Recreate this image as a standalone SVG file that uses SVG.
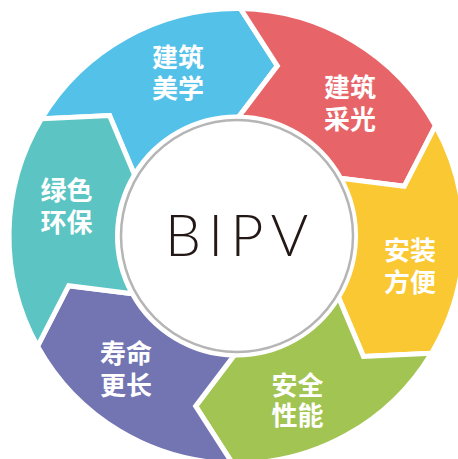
<svg xmlns="http://www.w3.org/2000/svg" width="458" height="459" viewBox="0 0 458 459">
<style>
.seg{stroke:#fff;stroke-width:5;stroke-linejoin:miter;stroke-miterlimit:10}
.lbl{font-family:"Noto Sans CJK SC","Noto Sans",sans-serif;font-size:26px;font-weight:bold;fill:#fff;text-anchor:middle}
.title{font-family:"Lato","Liberation Sans",sans-serif;font-weight:300;font-size:57px;fill:#231815;text-anchor:middle}
</style>
<rect width="458" height="459" fill="#fff"/>
<g id="blue">
<path class="seg" fill="#54C1E9" d="M41.49,118.83 A227.5,227.5 0 0 1 240.47,8.53 L277.35,65.84 L238.58,117.02 A119,119 0 0 0 134.50,174.71 L109.56,115.54 Z"/>
<text class="lbl"><tspan x="178" y="66.5">建筑</tspan><tspan x="178" y="97.5">美学</tspan></text>
</g>
<g id="red">
<path class="seg" fill="#E76568" d="M240.47,8.53 A227.5,227.5 0 0 1 435.48,125.71 L404.29,186.30 L340.58,178.31 A119,119 0 0 0 238.58,117.02 L277.35,65.84 Z"/>
<text class="lbl"><tspan x="350" y="96.5">建筑</tspan><tspan x="350" y="128.5">采光</tspan></text>
</g>
<g id="yellow">
<path class="seg" fill="#FAC832" d="M435.48,125.71 A227.5,227.5 0 0 1 431.51,353.17 L363.44,356.46 L338.50,297.29 A119,119 0 0 0 340.58,178.31 L404.29,186.30 Z"/>
<text class="lbl"><tspan x="410" y="260">安装</tspan><tspan x="410" y="291.5">方便</tspan></text>
</g>
<g id="green">
<path class="seg" fill="#A2C452" d="M431.51,353.17 A227.5,227.5 0 0 1 232.53,463.47 L195.65,406.16 L234.42,354.98 A119,119 0 0 0 338.50,297.29 L363.44,356.46 Z"/>
<text class="lbl"><tspan x="297.5" y="394.5">安全</tspan><tspan x="297.5" y="425">性能</tspan></text>
</g>
<g id="purple">
<path class="seg" fill="#7375B3" d="M232.53,463.47 A227.5,227.5 0 0 1 37.52,346.29 L68.71,285.70 L132.42,293.69 A119,119 0 0 0 234.42,354.98 L195.65,406.16 Z"/>
<text class="lbl"><tspan x="126" y="363">寿命</tspan><tspan x="126" y="395">更长</tspan></text>
</g>
<g id="teal">
<path class="seg" fill="#5CC5C3" d="M37.52,346.29 A227.5,227.5 0 0 1 41.49,118.83 L109.56,115.54 L134.50,174.71 A119,119 0 0 0 132.42,293.69 L68.71,285.70 Z"/>
<text class="lbl"><tspan x="66.5" y="200">绿色</tspan><tspan x="66.5" y="231.5">环保</tspan></text>
</g>
<g id="center">
<circle cx="237" cy="236" r="116" fill="#fff" stroke="#B5B5B5" stroke-width="2.5"/>
<text class="title" x="236.5" y="256" textLength="143" lengthAdjust="spacing">BIPV</text>
</g>
<g id="connectors"/>
</svg>
